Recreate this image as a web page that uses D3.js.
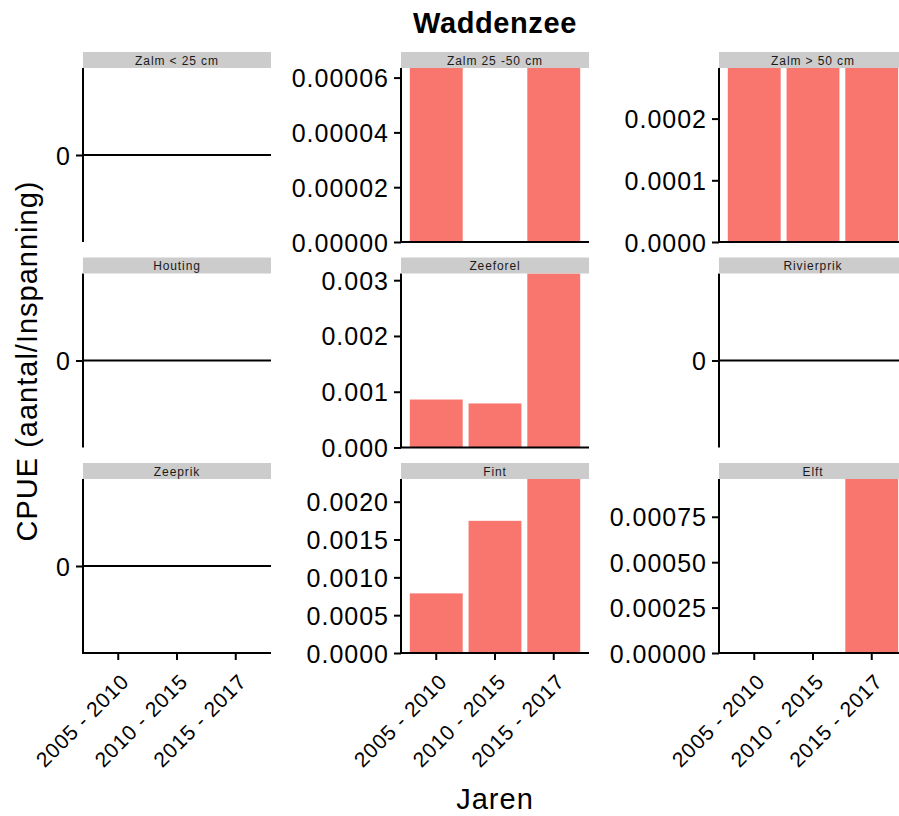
<!DOCTYPE html>
<html>
<head>
<meta charset="utf-8">
<script src="https://cdn.jsdelivr.net/npm/d3@7"></script>
<style>
  html, body { margin: 0; padding: 0; background: #fff; }
  svg { display: block; font-family: "Liberation Sans", Arial, sans-serif; }
</style>
</head>
<body>
<svg id="chart" width="899" height="816"></svg>
<script>
// ---------------- data ----------------
const title = "Waddenzee";
const xTitle = "Jaren";
const yTitle = "CPUE (aantal/Inspanning)";
const categories = ["2005 - 2010", "2010 - 2015", "2015 - 2017"];
const species = ["Zalm < 25 cm", "Zalm 25 -50 cm", "Zalm > 50 cm",
                 "Houting", "Zeeforel", "Rivierprik",
                 "Zeeprik", "Fint", "Elft"];
const zalmKlein  = [0, 0, 0];
const zalmMiddel = [0.0000635, 0, 0.0000635];
const zalmGroot  = [0.000282, 0.000282, 0.000282];
const houting    = [0, 0, 0];
const zeeforel   = [0.00086, 0.00079, 0.00312];
const rivierprik = [0, 0, 0];
const zeeprik    = [0, 0, 0];
const fint       = [0.000788, 0.001747, 0.0023];
const elft       = [0, 0, 0.000958];
const seriesValues = [zalmKlein, zalmMiddel, zalmGroot, houting, zeeforel, rivierprik, zeeprik, fint, elft];
const yTicks = [
  [0],
  [0, 0.00002, 0.00004, 0.00006],
  [0, 0.0001, 0.0002],
  [0],
  [0, 0.001, 0.002, 0.003],
  [0],
  [0],
  [0, 0.0005, 0.001, 0.0015, 0.002],
  [0, 0.00025, 0.0005, 0.00075]
];

// ---------------- layout ----------------
const barColor = "#F8766D";
const panelW = 188, panelH = 174, stripH = 16;
const colX = d3.scaleLinear().domain([0, 1]).range([83, 401]);     // column lefts
const rowY = d3.scaleLinear().domain([0, 1]).range([52, 257.5]);   // strip tops

const svg = d3.select("#chart");

svg.append("text")
  .attr("x", 495).attr("y", 33)
  .attr("text-anchor", "middle")
  .style("font-size", "29px").style("font-weight", "bold")
  .style("letter-spacing", "0.6px")
  .text(title);

svg.append("text")
  .attr("transform", "translate(37,361) rotate(-90)")
  .attr("text-anchor", "middle")
  .style("font-size", "29px").style("letter-spacing", "1px")
  .text(yTitle);

svg.append("text")
  .attr("x", 495).attr("y", 809)
  .attr("text-anchor", "middle")
  .style("font-size", "29px").style("letter-spacing", "1px")
  .text(xTitle);

function decimalsOf(v) {
  const s = String(v);
  const k = s.indexOf(".");
  return k < 0 ? 0 : s.length - k - 1;
}

species.forEach((name, i) => {
  const r = Math.floor(i / 3), c = i % 3;
  const vals = seriesValues[i];
  const x0 = colX(c), s0 = rowY(r), y0 = s0 + stripH;
  const g = svg.append("g").attr("transform", `translate(${x0},${y0})`);

  const maxV = d3.max(vals);
  const x = d3.scaleBand().domain(categories).range([0, panelW])
    .paddingInner(0.1).paddingOuter(0.15);
  const y = d3.scaleLinear()
    .domain(maxV > 0 ? [0, maxV] : [-1, 1])
    .range([panelH, 0]);

  // strip
  svg.append("rect")
    .attr("x", x0).attr("y", s0).attr("width", panelW).attr("height", stripH)
    .attr("fill", "#cccccc");
  svg.append("text")
    .attr("x", x0 + panelW / 2).attr("y", s0 + 12.5)
    .attr("text-anchor", "middle")
    .style("font-size", "12px").style("letter-spacing", "0.9px")
    .attr("fill", "#1a1a1a")
    .text(name);

  // bars
  g.selectAll("rect.bar").data(categories).enter().append("rect")
    .attr("class", "bar")
    .attr("x", d => x(d))
    .attr("width", x.bandwidth())
    .attr("y", (d, k) => y(vals[k]))
    .attr("height", (d, k) => y(0) - y(vals[k]))
    .attr("fill", barColor);

  // hline at zero
  g.append("line")
    .attr("x1", 0).attr("x2", panelW)
    .attr("y1", y(0)).attr("y2", y(0))
    .attr("stroke", "#000").attr("stroke-width", 2);

  // y axis
  const ticks = yTicks[i];
  const prec = d3.max(ticks, decimalsOf);
  const yAxis = d3.axisLeft(y).tickValues(ticks)
    .tickFormat(d3.format("." + prec + "f"))
    .tickSize(7).tickPadding(5).tickSizeOuter(0);
  const ya = g.append("g").call(yAxis);
  ya.select(".domain").remove();
  ya.append("line").attr("x1", 0).attr("x2", 0).attr("y1", 0).attr("y2", panelH)
    .attr("stroke", "#000").attr("stroke-width", 2);
  ya.selectAll(".tick line").attr("stroke", "#000").attr("stroke-width", 2);
  ya.selectAll(".tick text")
    .attr("fill", "#000")
    .style("font-size", "25px").style("font-family", "Liberation Sans, Arial, sans-serif")
    .style("letter-spacing", "1px")
    .attr("dy", "0.36em");

  // x axis (bottom row only)
  if (r === 2) {
    const xAxis = d3.axisBottom(x).tickSize(7).tickSizeOuter(0).tickFormat("");
    const xa = g.append("g").attr("transform", `translate(0,${panelH})`).call(xAxis);
    xa.select(".domain").remove();
    xa.append("line").attr("x1", -1).attr("x2", panelW).attr("y1", 0).attr("y2", 0)
      .attr("stroke", "#000").attr("stroke-width", 2);
    xa.selectAll(".tick line").attr("stroke", "#000").attr("stroke-width", 2);
    categories.forEach(cat => {
      const tx = x(cat) + x.bandwidth() / 2;
      g.append("text")
        .attr("transform", `translate(${tx + 12},${panelH + 30}) rotate(-45)`)
        .attr("text-anchor", "end")
        .style("font-size", "21px").style("letter-spacing", "0.8px")
        .attr("fill", "#000")
        .text(cat);
    });
  }
});
</script>
</body>
</html>
